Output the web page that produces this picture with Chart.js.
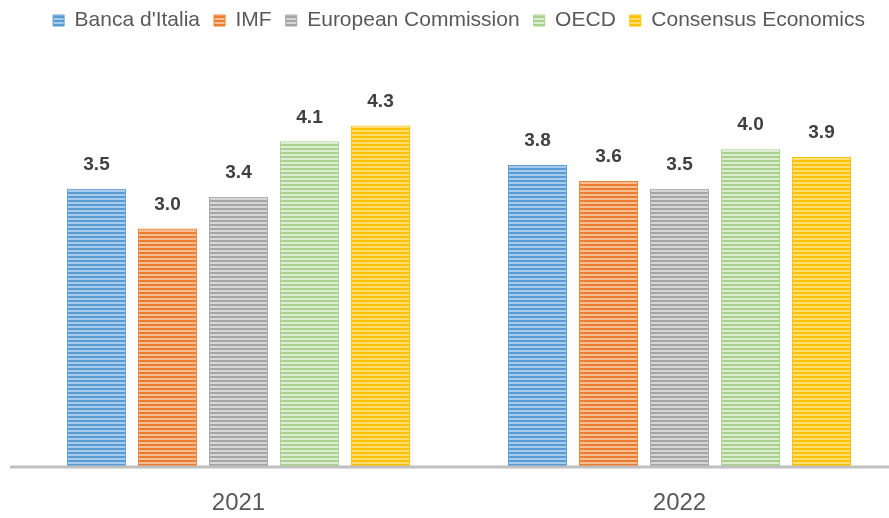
<!DOCTYPE html>
<html>
<head>
<meta charset="utf-8">
<script src="https://cdn.jsdelivr.net/npm/chart.js@4/dist/chart.umd.min.js"></script>
<style>
  html, body { margin: 0; padding: 0; background: #fff; overflow: hidden; }
  #wrap { width: 905px; height: 518px; }
</style>
</head>
<body>
<div id="wrap"><canvas id="myChart"></canvas></div>
<script>
const years = ['2021', '2022'];
const seriesNames = ['Banca d\'Italia', 'IMF', 'European Commission', 'OECD', 'Consensus Economics'];
const bancaItalia = [3.5, 3.8];
const imf = [3.0, 3.6];
const europeanCommission = [3.4, 3.5];
const oecd = [4.1, 4.0];
const consensus = [4.3, 3.9];

const FONT = '"Liberation Sans", Arial, sans-serif';

// horizontal stripe fill like the original
function stripes(dark, light) {
  const c = document.createElement('canvas');
  c.width = 1; c.height = 4;
  const g = c.getContext('2d');
  g.fillStyle = dark; g.fillRect(0, 0, 1, 2);
  g.fillStyle = light; g.fillRect(0, 2, 1, 2);
  return g.createPattern(c, 'repeat');
}

const colors = [
  ['#5B9BD5', '#A9CBEB'],
  ['#ED7D31', '#F7BE96'],
  ['#A5A5A5', '#D6D6D6'],
  ['#A9D18E', '#DDEDD2'],
  ['#FFC000', '#FFDF73']
];
const values = [bancaItalia, imf, europeanCommission, oecd, consensus];

const valueLabels = {
  id: 'valueLabels',
  beforeInit(chart) {
    // extra room under the legend
    const fit = chart.legend.fit;
    chart.legend.fit = function () {
      fit.call(this);
      this.height += 29;
    };
  },
  afterDatasetsDraw(chart) {
    const ctx = chart.ctx;
    const area = chart.chartArea;
    ctx.save();
    // axis line
    ctx.strokeStyle = '#C0C0C0';
    ctx.lineWidth = 3;
    ctx.beginPath();
    ctx.moveTo(10, area.bottom + 1);
    ctx.lineTo(chart.width, area.bottom + 1);
    ctx.stroke();
    ctx.font = 'bold 19px ' + FONT;
    ctx.fillStyle = '#404040';
    ctx.textAlign = 'center';
    ctx.textBaseline = 'middle';
    chart.data.datasets.forEach((ds, i) => {
      chart.getDatasetMeta(i).data.forEach((bar, j) => {
        ctx.fillText(ds.data[j].toFixed(1), bar.x, bar.y - 24);
      });
    });
    ctx.restore();
  }
};

new Chart(document.getElementById('myChart'), {
  type: 'bar',
  data: {
    labels: years,
    datasets: seriesNames.map((name, i) => ({
      label: name,
      data: values[i],
      backgroundColor: stripes(colors[i][0], colors[i][1]),
      borderColor: colors[i][0],
      borderWidth: 1,
      categoryPercentage: 0.805,
      barPercentage: 0.83
    }))
  },
  options: {
    responsive: true,
    maintainAspectRatio: false,
    animation: false,
    layout: { padding: { left: 18, right: 5, top: -4, bottom: 0 } },
    plugins: {
      legend: {
        position: 'top',
        labels: {
          boxWidth: 11,
          boxHeight: 11,
          color: '#595959',
          font: { family: FONT, size: 21 },
          padding: 14
        }
      },
      tooltip: { enabled: false }
    },
    scales: {
      x: {
        grid: { display: false },
        border: { display: false },
        ticks: { color: '#595959', font: { family: FONT, size: 24 }, padding: 15 },
        afterFit(scale) { scale.height = 52; }
      },
      y: {
        display: false,
        min: 0,
        max: 5
      }
    }
  },
  plugins: [valueLabels]
});
</script>
</body>
</html>
